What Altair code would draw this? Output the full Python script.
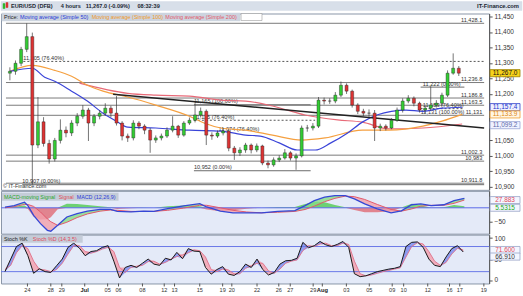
import altair as alt
import pandas as pd

FONT = "Liberation Sans"

# ---------------- price candles (half-day steps on a trading-day index) ----------------
first_open = 11267
close = [11273, 11299, 11344, 11385, 11035, 11110, 11040, 10990, 11050, 11083,
         11074, 11106, 11128, 11148, 11106, 11128, 11138, 11154, 11138, 11106,
         11064, 11058, 11106, 11096, 11083, 11051, 11058, 11064, 11083, 11096,
         11067, 11106, 11115, 11132, 11144, 11067, 11064, 11074, 11080, 11025,
         11010, 11019, 11035, 11019, 11032, 10977, 10971, 10987, 10993, 11010,
         10993, 11000, 11090, 11090, 11096, 11180, 11177, 11177, 11196, 11228,
         11209, 11164, 11144, 11138, 11138, 11090, 11096, 11090, 11115, 11148,
         11177, 11186, 11170, 11148, 11154, 11164, 11170, 11196, 11267, 11283,
         11267]
high = [11286, 11308, 11352, 11428, 11398, 11190, 11125, 11052, 11058, 11118,
        11095, 11115, 11138, 11164, 11155, 11135, 11148, 11170, 11162, 11193,
        11112, 11072, 11115, 11112, 11102, 11090, 11066, 11072, 11092, 11128,
        11100, 11112, 11124, 11170, 11156, 11150, 11076, 11082, 11090, 11086,
        11032, 11028, 11042, 11040, 11040, 11036, 10985, 10995, 11002, 11022,
        11015, 11008, 11098, 11100, 11106, 11190, 11188, 11186, 11206, 11240,
        11234, 11214, 11170, 11152, 11150, 11148, 11104, 11102, 11122, 11156,
        11186, 11196, 11192, 11175, 11162, 11225, 11180, 11204, 11276, 11331,
        11290]
low = [11244, 11262, 11290, 11335, 10907, 11025, 11030, 10975, 10982, 11040,
       11060, 11064, 11096, 11120, 11048, 11096, 11118, 11130, 11125, 11098,
       11050, 11045, 11050, 11086, 11070, 11010, 11042, 11050, 11058, 11076,
       11058, 11062, 11100, 11108, 11124, 11035, 11052, 11058, 11066, 11015,
       10987, 11000, 11010, 11008, 11012, 10970, 10960, 10965, 10980, 10988,
       10985, 10955, 10995, 11078, 11082, 11090, 11166, 11168, 11170, 11190,
       11200, 11156, 11135, 11128, 11126, 11048, 11080, 11082, 11086, 11110,
       11140, 11170, 11160, 11140, 11138, 11146, 11156, 11162, 11190, 11262,
       11258]

# ---------------- moving averages ----------------
sma50_t = [0, 2, 3.1, 4, 5.5, 6.9, 8.3, 9.5, 10.5, 13, 16, 18.8, 21, 22.3, 24, 25.6,
           27.2, 28.6, 30.1, 31.4, 32.7, 35.3, 36.8, 38.5, 40.3]
sma50_v = [11273, 11283, 11254, 11241, 11209, 11177, 11138, 11112, 11093, 11090, 11083,
           11080, 11067, 11064, 11042, 11019, 11019, 11042, 11074, 11109, 11132, 11148,
           11144, 11154, 11157]
sma100_t = [0, 2, 4, 5.5, 6.9, 8.3, 10.5, 13, 16, 17.3, 18.8, 21, 23.4, 26, 28.1, 31.4,
            33.8, 36.8, 38.5, 40.3]
sma100_v = [11273, 11292, 11276, 11257, 11228, 11209, 11190, 11164, 11128, 11106, 11090,
            11083, 11067, 11051, 11058, 11083, 11083, 11096, 11112, 11134]
sma200_t = [6.2, 10.5, 13, 16, 18.8, 21, 23.4, 26.3, 29.2, 31.4, 33.8, 36.8, 40.3]
sma200_v = [11235, 11202, 11196, 11193, 11180, 11177, 11161, 11132, 11116, 11109, 11087,
            11090, 11103]

trend_t = [9.2, 42.26]
trend_p = [11199, 11090]

# ---------------- levels ----------------
level_p = [11428.1, 11236.8, 11186.8, 11163.5, 11131.0, 11002.3, 10983.0, 10911.8]
level_txt = ["11,428.1", "11,236.8", "11,186.8", "11,163.5", "11,131", "11,002.3",
             "10,983", "10,911.8"]
fib_solid_t0 = [16.4, 16.4, 36.6, 1.1]
fib_solid_t1 = [26.8, 26.8, 40.5, 42.26]
fib_solid_p = [11165, 10952, 11222, 10907]
fib_dash_t0 = [1.2, 16.4, 36.6]
fib_dash_t1 = [42.26, 27.2, 40.5]
fib_dash_p = [11305, 11115, 11152.5]
fib_txt = ["11,305 (76.40%)", "10,907 (0.00%)", "11,165 (100.00%)", "11,115 (76.40%)",
           "10,952 (0.00%)", "11,074 (76.40%)", "11,222 (0.00%)", "11,153 (76.40%)",
           "11,131 (100.00%)"]
fib_txt_t = [1.2, 1.1, 16.4, 16.4, 16.4, 18.6, 36.8, 36.8, 36.6]
fib_txt_p = [11305, 10907, 11165, 11115, 10952, 11074, 11222, 11152.5, 11131]

box_val = [11267.0, 11157.4, 11133.9, 11099.2]
box_txt = ["11,267.0", "11,157.4", "11,133.9", "11,099.2"]
box_fill = ["#f7d21a", "#eef0ff", "#fff6e6", "#f0f2ff"]
box_stroke = ["#9a8000", "#3344cc", "#f0a030", "#99a6d6"]
box_tc = ["#111111", "#2233cc", "#e08a10", "#5b6aa8"]
price_ticks = [10900, 10950, 11000, 11050, 11200, 11250, 11300, 11350, 11400, 11450]

# ---------------- MACD (12,26,9) ----------------
macd_t = [0, 0.8, 1.7, 2.0, 2.5, 3.1, 3.7, 4.0, 4.6, 5.4, 6.3, 7.2, 8.3, 9.2, 9.8, 11,
          12.1, 13, 14.2, 15.6, 17, 17.6, 18.8, 19.9, 21.1, 22.4, 23.8, 25.3, 26.2, 27,
          27.9, 28.8, 29.7, 30.5, 31.4, 32.5, 33.7, 34.6, 35.5, 36.3, 37.2, 38.3, 39.2, 40.1]
macd_v = [2.5, 8, 20, 8, -27, -57, -81, -84, -63, -33, -21, -12, -6, -6, -13, -15,
          -12, -13, -3, 7, 15, 3, -12, -18, -18, -18, -13, -10, 8, 26,
          38, 44, 44, 32, 14, -4, -18, -11, 11, 14, 8, 11, 26, 34]
signal_v = [0, 4, 12, 12, 5, -15, -40, -50, -63, -52, -35, -22, -12, -8, -9, -13,
            -13, -13, -9, -1, 9, 9, 0, -9, -15, -18, -16, -13, -6, 6,
            22, 34, 42, 40, 30, 12, -6, -12, -4, 6, 9, 9, 16, 27.883]
hist_v = [2, 4, 8, -4, -32, -42, -41, -34, -5, 15, 14, 10, 6, 2, -4, -2,
          1, 0, 6, 8, 6, -6, -12, -9, -3, 0, 3, 3, 14, 22,
          20, 10, 2, -8, -16, -16, -12, 1, 15, 8, -1, 2, 10, 5.5315]

# ---------------- Stochastic (14,3,5) ----------------
stoch_k = [20, 50, 80, 88, 58, 16, 27, 20, 18, 34,
           50, 78, 88, 76, 58, 68, 70, 78, 82, 45,
           5, 30, 35, 30, 40, 50, 38, 35, 52, 48,
           66, 51, 75, 69, 68, 30, 14, 25, 32, 14,
           11, 20, 38, 30, 50, 25, 12, 18, 38, 46,
           47, 52, 90, 77, 82, 92, 84, 80, 85, 92,
           78, 15, 8, 10, 15, 20, 23, 26, 28, 32,
           80, 90, 91, 78, 50, 35, 32, 55, 75, 82,
           66.91]
stoch_d = [25, 35, 65, 82, 75, 45, 25, 24, 20, 25,
           40, 62, 82, 82, 68, 64, 68, 74, 78, 68,
           30, 18, 30, 33, 35, 44, 45, 38, 42, 50,
           56, 60, 65, 72, 70, 55, 25, 20, 26, 24,
           15, 15, 28, 34, 40, 40, 22, 16, 26, 40,
           45, 48, 70, 82, 80, 86, 88, 82, 82, 88,
           85, 45, 15, 10, 12, 16, 20, 23, 26, 29,
           55, 80, 89, 86, 68, 45, 35, 42, 62, 76,
           71.6]

tick_pos = [1.96, 4.0, 4.96, 6.96, 8.96, 9.91, 12.0, 13.9, 14.8, 17.0, 19.0, 19.8, 22.0,
            23.9, 24.9, 26.9, 27.7, 29.8, 31.8, 33.8, 34.8, 36.9, 38.8, 39.7, 41.8]
tick_lab = ["24", "28", "29", "Jul", "05", "06", "08", "12", "13", "15", "19", "20", "22",
            "26", "27", "29", "Aug", "03", "05", "09", "10", "12", "16", "17", "19"]

# ---------------- scales / helpers ----------------
W, H1, H2, H3 = 490, 177, 43, 49
xs = alt.Scale(domain=[-0.348, 42.26], nice=False, zero=False)
ys_main = alt.Scale(domain=[10890.35, 11459.65], nice=False, zero=False)
ys_macd = alt.Scale(domain=[-93, 61], nice=False, zero=False)
ys_st = alt.Scale(domain=[-8.3, 108.3], nice=False, zero=False)

AXC = dict(orient="right", grid=False, title=None, labelFontSize=6.5, labelFont=FONT,
           tickSize=3, labelPadding=2, domainColor="#555", tickColor="#555",
           labelColor="#333")
AX_MAIN = alt.Axis(values=price_ticks, format=",.0f", **AXC)
AX_MACD = alt.Axis(values=[-50], format="d", **AXC)
AX_ST = alt.Axis(values=[0, 50, 100], format="d", **AXC)

ONE = pd.DataFrame({"k": [0]})


def X(f="t:Q"):
    return alt.X(f, scale=xs, axis=None)


def YM(f):
    return alt.Y(f, scale=ys_main, axis=AX_MAIN)


def YD(f):
    return alt.Y(f, scale=ys_macd, axis=AX_MACD)


def YS(f):
    return alt.Y(f, scale=ys_st, axis=AX_ST)


def ann(rows, size, weight="normal", align="left"):
    out = []
    for txt, px, py, col in rows:
        out.append(alt.Chart(ONE).mark_text(
            align=align, baseline="middle", fontSize=size, fontWeight=weight, font=FONT,
            color=col).encode(x=alt.value(px), y=alt.value(py), text=alt.value(txt)))
    return out


def prect(rows, stroke_w=0):
    df = pd.DataFrame(rows, columns=["px", "px2", "py", "py2", "col", "st"])
    return alt.Chart(df).mark_rect(strokeWidth=stroke_w).encode(
        x=alt.X("px:Q", scale=None, axis=None), x2="px2:Q",
        y=alt.Y("py:Q", scale=None, axis=None), y2="py2:Q",
        fill=alt.Fill("col:N", scale=None, legend=None),
        stroke=alt.Stroke("st:N", scale=None, legend=None))


# ---------------- main price panel ----------------
opens = [first_open] + close[:-1]
cd = pd.DataFrame({"t": [i * 0.5 for i in range(len(close))], "o": opens, "c": close,
                   "h": high, "l": low})
cd["h"] = cd[["h", "o", "c"]].max(axis=1)
cd["l"] = cd[["l", "o", "c"]].min(axis=1)

lev = pd.DataFrame({"p": level_p, "txt": level_txt, "t0": -0.348, "t1": 42.26, "tl": 42.09})
lines_full = alt.Chart(lev).mark_rule(color="#7a7a7a", strokeWidth=1).encode(
    x=X("t0:Q"), x2="t1:Q", y=YM("p:Q"))
lev_text = alt.Chart(lev).mark_text(align="right", baseline="bottom", fontSize=5.6,
                                    font=FONT, color="#333", dy=-0.5).encode(
    x=X("tl:Q"), y=YM("p:Q"), text="txt:N")

fs = pd.DataFrame({"t0": fib_solid_t0, "t1": fib_solid_t1, "p": fib_solid_p})
fdash = pd.DataFrame({"t0": fib_dash_t0, "t1": fib_dash_t1, "p": fib_dash_p})
fib_solid = alt.Chart(fs).mark_rule(color="#6a6a6a", strokeWidth=1).encode(
    x=X("t0:Q"), x2="t1:Q", y=YM("p:Q"))
fib_dash = alt.Chart(fdash).mark_rule(color="#555", strokeWidth=1, strokeDash=[2, 2]).encode(
    x=X("t0:Q"), x2="t1:Q", y=YM("p:Q"))
ft = pd.DataFrame({"t": fib_txt_t, "p": fib_txt_p, "txt": fib_txt})
fib_text = alt.Chart(ft).mark_text(align="left", baseline="bottom", fontSize=5.6, font=FONT,
                                   color="#333", dy=-0.5).encode(
    x=X("t:Q"), y=YM("p:Q"), text="txt:N")


def sma_layer(ts, vs, col):
    return alt.Chart(pd.DataFrame({"t": ts, "v": vs})).mark_line(
        strokeWidth=1.2, interpolate="monotone", color=col).encode(x=X(), y=YM("v:Q"))


sma200 = sma_layer(sma200_t, sma200_v, "#e86a78")
sma100 = sma_layer(sma100_t, sma100_v, "#f5a040")
sma50 = sma_layer(sma50_t, sma50_v, "#3a44d8")
trend = alt.Chart(pd.DataFrame({"t": trend_t, "p": trend_p})).mark_line(
    color="#222", strokeWidth=1.4).encode(x=X(), y=YM("p:Q"))

wicks = alt.Chart(cd).mark_rule(color="#3a3a3a", strokeWidth=0.7).encode(
    x=X(), y=YM("l:Q"), y2="h:Q")
bodies = alt.Chart(cd).mark_bar(size=3.0, stroke="#1e1e1e", strokeWidth=0.4).encode(
    x=X(), y=YM("o:Q"), y2="c:Q",
    fill=alt.condition("datum.c >= datum.o", alt.value("#33cc33"), alt.value("#dd3333")))

bx = pd.DataFrame({"v": box_val, "txt": box_txt, "bf": box_fill, "st": box_stroke,
                   "tc": box_tc})
bx["lo"] = bx.v - 11.5
bx["hi"] = bx.v + 11.5
box_r = alt.Chart(bx).mark_rect(strokeWidth=0.8).encode(
    x=alt.value(491), x2=alt.value(521), y=YM("lo:Q"), y2="hi:Q",
    fill=alt.Fill("bf:N", scale=None, legend=None),
    stroke=alt.Stroke("st:N", scale=None, legend=None))
box_t = alt.Chart(bx).mark_text(fontSize=6.5, font=FONT).encode(
    x=alt.value(506), y=YM("v:Q"), text="txt:N",
    fill=alt.Fill("tc:N", scale=None, legend=None))

hdr_rects = prect([
    (0, 523, -12, -3, "#d8dfe9", "#d8dfe9"),
    (1, 240, -0.5, 7.5, "#cdd4df", "#cdd4df"),
    (241, 262, 0, 7, "#ffffff", "#888888"),
    (2, 4, -10, -5, "#2fb82f", "#2fb82f"),
    (5, 7, -11, -6, "#d83030", "#d83030"),
], stroke_w=0.5)
hdr_bold = ann([
    ("EUR/USD (DFB)", 10, -7.5, "#1b2733"),
    ("4 hours", 60, -7.5, "#1b2733"),
    ("11,267.0 (-0.09%)", 85, -7.5, "#1b2733"),
    ("08:32:39", 137, -7.5, "#1b2733"),
], 5.6, weight="bold")
hdr_right = ann([("IT-Finance.com", 520, -7.5, "#1b2733")], 5.8, weight="bold", align="right")
legend_main = ann([
    ("Price:", 3, 3.5, "#222222"),
    ("Moving average (Simple 50)", 19, 3.5, "#2a3ad8"),
    ("Moving average (Simple 100)", 91, 3.5, "#f09a2a"),
    ("Moving average (Simple 200)", 165, 3.5, "#e25a6a"),
    ("\u00a9 IT-Finance.com", 2, 173.5, "#333333"),
], 5.5)

main = alt.layer(lines_full, fib_solid, fib_dash, fib_text, lev_text, sma200, sma100, sma50,
                 trend, wicks, bodies, box_r, box_t, hdr_rects, *hdr_bold, *hdr_right,
                 *legend_main).properties(width=W, height=H1)

# ---------------- MACD panel ----------------
md = pd.DataFrame({"t": macd_t, "m": macd_v, "s": signal_v, "h": hist_v})
md["hp"] = md.h.clip(lower=0)
md["hn"] = md.h.clip(upper=0)
md["zero"] = 0.0
md["mx"] = md[["m", "s"]].max(axis=1)
md["mn"] = md[["m", "s"]].min(axis=1)

hist_pos = alt.Chart(md).mark_area(color="#46c846", opacity=0.75).encode(
    x=X(), y=YD("hp:Q"), y2="zero:Q")
hist_neg = alt.Chart(md).mark_area(color="#e0404a", opacity=0.6).encode(
    x=X(), y=YD("hn:Q"), y2="zero:Q")
fill_dn = alt.Chart(md).mark_area(color="#f3a0aa", opacity=0.8).encode(
    x=X(), y=YD("m:Q"), y2="mx:Q")
fill_up = alt.Chart(md).mark_area(color="#86dc86", opacity=0.8).encode(
    x=X(), y=YD("m:Q"), y2="mn:Q")
zero_line = alt.Chart(pd.DataFrame({"v": [0.0]})).mark_rule(
    color="#5a68e8", strokeWidth=1).encode(y=YD("v:Q"))
sig_line = alt.Chart(md).mark_line(color="#e2586c", strokeWidth=1).encode(x=X(), y=YD("s:Q"))
macd_line = alt.Chart(md).mark_line(color="#3447d6", strokeWidth=1.3).encode(
    x=X(), y=YD("m:Q"))

mb = pd.DataFrame({"pos": [27.883, 0.0], "txt": ["27.883", "5.5315"],
                   "tc": ["#e04a5a", "#22a822"]})
mb["lo"] = mb.pos - 12.5
mb["hi"] = mb.pos + 12.5
mbox_r = alt.Chart(mb).mark_rect(fill="#f4f6ff", stroke="#9aa6c8", strokeWidth=0.8).encode(
    x=alt.value(491), x2=alt.value(521), y=YD("lo:Q"), y2="hi:Q")
mbox_t = alt.Chart(mb).mark_text(fontSize=6.5, font=FONT).encode(
    x=alt.value(506), y=YD("pos:Q"), text="txt:N",
    fill=alt.Fill("tc:N", scale=None, legend=None))
macd_leg_bg = prect([(1, 118, 2, 10, "#c4ccd8", "#c4ccd8")])
macd_leg = ann([
    ("MACD-moving Signal", 3, 6, "#2aa82a"),
    ("Signal", 58, 6, "#e04a5a"),
    ("MACD (12,26,9)", 76, 6, "#2a3ad8"),
], 5.4)

macd = alt.layer(hist_pos, hist_neg, fill_dn, fill_up, zero_line, sig_line, macd_line,
                 mbox_r, mbox_t, macd_leg_bg, *macd_leg).properties(
    width=W, height=H2, view=alt.ViewBackground(fill="#e4eaf8", stroke="#8a96a8"))

# ---------------- Stochastic panel ----------------
sd = pd.DataFrame({"t": [i * 0.5 for i in range(len(stoch_k))], "k": stoch_k, "d": stoch_d})
sd["mx"] = sd[["k", "d"]].max(axis=1)
sd["mn"] = sd[["k", "d"]].min(axis=1)

st_pink = alt.Chart(sd).mark_area(color="#f2a6b4", opacity=0.9).encode(
    x=X(), y=YS("k:Q"), y2="mx:Q")
st_blue = alt.Chart(sd).mark_area(color="#8493ee", opacity=0.9).encode(
    x=X(), y=YS("k:Q"), y2="mn:Q")
bands = alt.Chart(pd.DataFrame({"v": [80.0, 20.0]})).mark_rule(
    color="#6a78e8", strokeWidth=1).encode(y=YS("v:Q"))
d_line = alt.Chart(sd).mark_line(color="#e0708a", strokeWidth=0.9).encode(x=X(), y=YS("d:Q"))
k_line = alt.Chart(sd).mark_line(color="#1a1a1a", strokeWidth=1).encode(x=X(), y=YS("k:Q"))

tk = pd.DataFrame({"t": tick_pos, "lab": tick_lab})
tk["bold"] = tk.lab.isin(["Jul", "Aug"])
x_ticks = alt.Chart(tk).mark_rule(color="#555", strokeWidth=1).encode(
    x=X(), y=alt.value(H3), y2=alt.value(H3 + 3))
x_lab = alt.Chart(tk).transform_filter("!datum.bold").mark_text(
    fontSize=5.6, font=FONT, color="#333", baseline="middle").encode(
    x=X(), y=alt.value(H3 + 7), text="lab:N")
x_lab_b = alt.Chart(tk).transform_filter("datum.bold").mark_text(
    fontSize=5.8, font=FONT, fontWeight="bold", color="#222", baseline="middle").encode(
    x=X(), y=alt.value(H3 + 7), text="lab:N")

sb = pd.DataFrame({"pos": [71.6, 56.0], "txt": ["71.600", "66.910"],
                   "tc": ["#e04a5a", "#333333"]})
sb["lo"] = sb.pos - 8.5
sb["hi"] = sb.pos + 8.5
sbox_r = alt.Chart(sb).mark_rect(fill="#f4f6ff", stroke="#9aa6c8", strokeWidth=0.8).encode(
    x=alt.value(491), x2=alt.value(521), y=YS("lo:Q"), y2="hi:Q")
sbox_t = alt.Chart(sb).mark_text(fontSize=6.5, font=FONT).encode(
    x=alt.value(506), y=YS("pos:Q"), text="txt:N",
    fill=alt.Fill("tc:N", scale=None, legend=None))
st_leg_bg = prect([(1, 82, 0.5, 8, "#c4ccd8", "#c4ccd8")])
st_leg = ann([
    ("Stoch %K", 3, 4, "#222222"),
    ("Stoch %D (14,3,5)", 32, 4, "#e04a5a"),
], 5.4)

stoch = alt.layer(st_pink, st_blue, bands, d_line, k_line, sbox_r, sbox_t,
                  st_leg_bg, *st_leg, x_ticks, x_lab, x_lab_b).properties(
    width=W, height=H3, view=alt.ViewBackground(fill="#e4eaf8", stroke="#8a96a8"))

chart = alt.vconcat(main, macd, stoch, spacing=1).properties(
    padding=0,
    bounds="flush",
    background="white",
).configure_view(stroke="#8a96a8", strokeWidth=1).configure_text(font=FONT)

chart.save("out.html", embed_options={"renderer": "svg", "actions": False})
